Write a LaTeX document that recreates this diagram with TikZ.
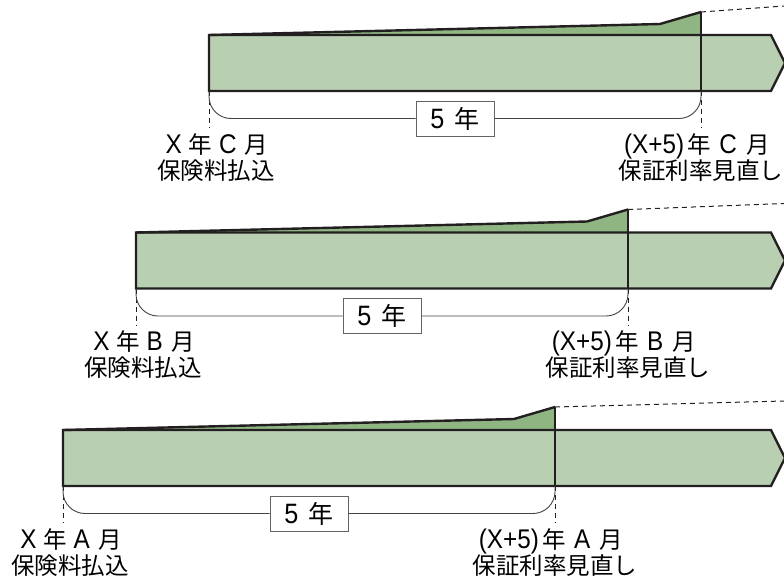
\documentclass[tikz,border=0pt]{standalone}
\usepackage{fontspec}
\setmainfont{Noto Sans CJK JP}
\newfontfamily\lat{Liberation Sans}
\newcommand\latn[2][27]{\scalebox{0.9}[1]{\fontsize{#1}{#1}\lat #2}}
\definecolor{barfill}{RGB}{185,207,178}
\definecolor{wedgefill}{RGB}{143,181,131}
\definecolor{ink}{RGB}{35,31,32}
\begin{document}
\begin{tikzpicture}[x=1pt,y=-1pt,
  bar/.style={fill=barfill,draw=ink,line width=2.4pt,line join=miter},
  wedgeline/.style={draw=ink,line width=2.4pt,line join=round},
  vline/.style={draw=ink,line width=1.3pt},
  guide/.style={draw=ink,line width=1pt,dash pattern=on 5pt off 4pt},
  brace/.style={draw=ink!85,line width=0.9pt,rounded corners=22pt},
  yearbox/.style={draw=ink!70,line width=0.9pt,fill=white,minimum width=78pt,minimum height=35pt,inner sep=0pt,font=\fontsize{25}{25}\selectfont},
  lbl/.style={font=\fontsize{23.5}{23.5}\selectfont,inner sep=0pt,anchor=base}]
\useasboundingbox (0,0) rectangle (784,581);
\foreach \m/\i in {C/0,B/1,A/2}{
  \pgfmathsetmacro\L{209-73*\i}
  \pgfmathsetmacro\T{35+197.5*\i}
  \pgfmathsetmacro\B{\T+56}
  \pgfmathsetmacro\V{\L+492}
  \coordinate (tl\m) at (\L,\T);
  \coordinate (bl\m) at (\L,\B);
  \coordinate (tr\m) at (771,\T);
  \coordinate (br\m) at (771,\B);
  \coordinate (tip\m) at (785,{(\T+\B)/2});
  \coordinate (kink\m) at (\V-41,\T-11);
  \coordinate (peak\m) at (\V,\T-23);
  \coordinate (vt\m) at (\V,\T);
  \coordinate (vb\m) at (\V,\B);
  \coordinate (far\m) at (784,\T-29);
  \coordinate (gl\m) at (\L,\B+37);
  \coordinate (gr\m) at (\V,\B+37);
  \fill[wedgefill] (tl\m) -- (kink\m) -- (peak\m) -- (vt\m) -- cycle;
  \draw[bar] (tl\m) -- (tr\m) -- (tip\m) -- (br\m) -- (bl\m) -- cycle;
  \draw[wedgeline] (tl\m) -- (kink\m) -- (peak\m);
  \draw[vline] (peak\m) -- (vb\m);
  \draw[guide] (peak\m) -- (far\m);
  \draw[guide] (bl\m) -- (gl\m);
  \draw[guide] (vb\m) -- (gr\m);
  \node[yearbox] (yr\m) at ({(\L+\V)/2},\B+27.5) {\latn[28]{5}\hspace{0.4em}年};
  \draw[brace] (bl\m) |- (yr\m.west);
  \draw[brace] (vb\m) |- (yr\m.east);
  \node[lbl] (fromA\m) at (\L+8,\B+62) {\latn{X}\hspace{0.28em}年\hspace{0.3em}\latn{\m}\hspace{0.35em}月};
  \node[lbl] (fromB\m) at (\L+7,\B+88) {保険料払込};
  \node[lbl] (toA\m) at (\V-4,\B+62) {\latn{(X+5)}\hspace{0.15em}年\hspace{0.35em}\latn{\m}\hspace{0.4em}月};
  \node[lbl] (toB\m) at (\V,\B+88) {保証利率見直し};
}
\end{tikzpicture}
\end{document}
